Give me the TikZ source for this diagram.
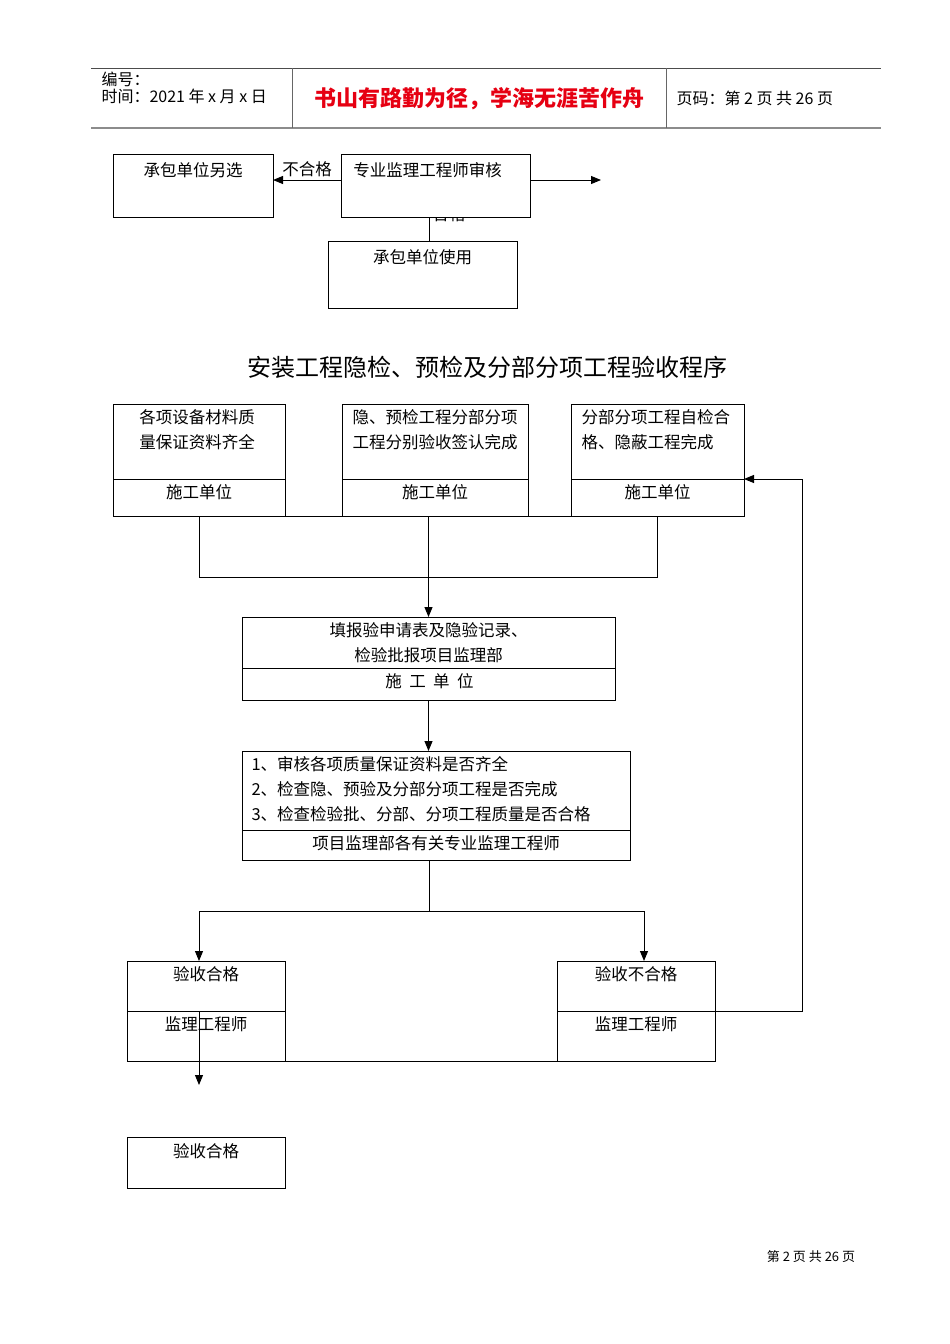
\documentclass[tikz,border=0pt]{standalone}
\usepackage{fontspec}
\setmainfont{Noto Sans CJK SC}
\usetikzlibrary{arrows.meta,positioning}
\definecolor{biaoti}{RGB}{230,0,18}
\begin{document}
\begin{tikzpicture}[x=1pt, y=-1pt, line width=1pt,
  box/.style={draw, fill=white, inner sep=0pt, outer sep=0pt},
  txt/.style={inner sep=0pt, font=\fontsize{16.5pt}{25pt}\selectfont},
  arr/.style={-{Triangle[length=10pt,width=8pt]}}]
\useasboundingbox (0,0) rectangle (950,1344);
\draw[line width=0.8pt, black!70] (91,68) -- (881,68);
\draw[line width=1.6pt, black!45] (91,128) -- (881,128);
\draw[line width=0.8pt, black!60] (292,68) -- (292,128) (666,68) -- (666,128);
\node[txt, anchor=west, font=\fontsize{16pt}{18pt}\selectfont] (bianhao) at (101,79) {编号：};
\node[txt, anchor=west, font=\fontsize{16pt}{18pt}\selectfont] (shijian) at (101,96) {时间：2021 年 x 月 x 日};
\node[txt, text=biaoti, font=\fontsize{22pt}{26pt}\selectfont\bfseries] (geyan) at (479,99) {书山有路勤为径，学海无涯苦作舟};
\node[txt, anchor=west, font=\fontsize{16pt}{18pt}\selectfont] (yema) at (676,98) {页码：第 2 页 共 26 页};
\node[txt] (hege) at (449,214) {合格};
\node[box, minimum width=160pt, minimum height=63pt] (lingxuan) at (193,185.5) {};
\node[box, minimum width=189pt, minimum height=63pt] (shenhe) at (435.5,185.5) {};
\node[box, minimum width=189pt, minimum height=67pt] (shiyong) at (422.5,274.5) {};
\node[txt] at ([yshift=-16pt]lingxuan.north) {承包单位另选};
\node[txt] at ([yshift=-16pt,xshift=-8pt]shenhe.north) {专业监理工程师审核};
\node[txt] at ([yshift=-16pt]shiyong.north) {承包单位使用};
\coordinate (buhege) at (0,180);
\coordinate (youjian) at (601,180);
\coordinate (hg) at (429,0);
\draw[arr] (shenhe.west |- buhege) -- (lingxuan.east |- buhege) node[midway, above=3pt, txt] {不合格};
\draw[arr] (shenhe.east |- youjian) -- (youjian);
\draw (shenhe.south -| hg) -- (shiyong.north -| hg);
\node[txt, font=\fontsize{24pt}{28pt}\selectfont] (timu) at (487,367) {安装工程隐检、预检及分部分项工程验收程序};
\node[box, minimum width=172pt, minimum height=112pt] (cailiao) at (199,460) {};
\node[box, minimum width=186pt, minimum height=112pt] (qianren) at (435,460) {};
\node[box, minimum width=173pt, minimum height=112pt] (zijian) at (657.5,460) {};
\coordinate (d1) at (0,479);
\foreach \b in {cailiao,qianren,zijian}
  \draw (\b.west |- d1) -- (\b.east |- d1);
\draw (cailiao.south west) -- (zijian.south east);
\node[txt, align=center] at ([yshift=-25.5pt,xshift=-2pt]cailiao.north) {各项设备材料质\\量保证资料齐全};
\node[txt, align=center] at ([yshift=-25.5pt]qianren.north) {隐、预检工程分部分项\\工程分别验收签认完成};
\node[txt, align=left, anchor=west] at ([yshift=-25.5pt,xshift=10pt]zijian.north west) {分部分项工程自检合\\格、隐蔽工程完成};
\node[txt] at ([yshift=24pt]cailiao.south) {施工单位};
\node[txt] at ([yshift=24pt]qianren.south) {施工单位};
\node[txt] at ([yshift=24pt]zijian.south) {施工单位};
\node[box, minimum width=373pt, minimum height=83pt] (tianbao) at (428.5,658.5) {};
\coordinate (d2) at (0,668);
\draw (tianbao.west |- d2) -- (tianbao.east |- d2);
\node[txt, align=center] at ([yshift=-25.5pt]tianbao.north) {填报验申请表及隐验记录、\\检验批报项目监理部};
\node[txt] at ([yshift=19pt,xshift=1pt]tianbao.south) {施\ \ 工\ \ 单\ \ 位};
\coordinate (hui) at (429,577);
\draw (cailiao.south) -- (cailiao.south |- hui) -- (zijian.south |- hui) -- (zijian.south);
\draw[arr] (qianren.south -| tianbao.north) -- (tianbao.north);
\node[box, minimum width=388pt, minimum height=109pt] (jiancha) at (436,805.5) {};
\coordinate (d3) at (0,830);
\draw (jiancha.west |- d3) -- (jiancha.east |- d3);
\node[txt, align=left, anchor=west] at ([yshift=-38pt,xshift=9pt]jiancha.north west) {1、审核各项质量保证资料是否齐全\\2、检查隐、预验及分部分项工程是否完成\\3、检查检验批、分部、分项工程质量是否合格};
\node[txt] at ([yshift=17pt]jiancha.south) {项目监理部各有关专业监理工程师};
\draw[arr] (tianbao.south) -- (tianbao.south |- jiancha.north);
\node[box, minimum width=158pt, minimum height=100pt] (hege1) at (206,1011) {};
\node[box, minimum width=158pt, minimum height=100pt] (buhege1) at (636,1011) {};
\draw (hege1.west) -- (hege1.east) (buhege1.west) -- (buhege1.east);
\draw (hege1.south west) -- (buhege1.south east);
\node[txt] at ([yshift=-13pt]hege1.north) {验收合格};
\node[txt] at ([yshift=-13pt]buhege1.north) {验收不合格};
\node[txt] at ([yshift=-13pt]hege1.center) {监理工程师};
\node[txt] at ([yshift=-13pt]buhege1.center) {监理工程师};
\coordinate (fenzhi) at (429,911);
\coordinate (zuo) at (199,911);
\coordinate (you) at (644,911);
\draw (jiancha.south -| fenzhi) -- (fenzhi);
\draw (zuo) -- (you);
\draw[arr] (zuo) -- (zuo |- hege1.north);
\draw[arr] (you) -- (you |- buhege1.north);
\coordinate (fankui) at (802,1011);
\draw[arr] (buhege1.east) -- (fankui) |- (zijian.east |- d1);
\node[box, minimum width=158pt, minimum height=51pt] (hege2) at (206,1162.5) {};
\node[txt] at ([yshift=-14pt]hege2.north) {验收合格};
\coordinate (xia) at (199,1085);
\draw[arr] (zuo |- hege1.center) -- (xia);
\node[txt, font=\fontsize{13pt}{15pt}\selectfont] (yejiao) at (811,1257) {第 2 页 共 26 页};
\end{tikzpicture}
\end{document}
